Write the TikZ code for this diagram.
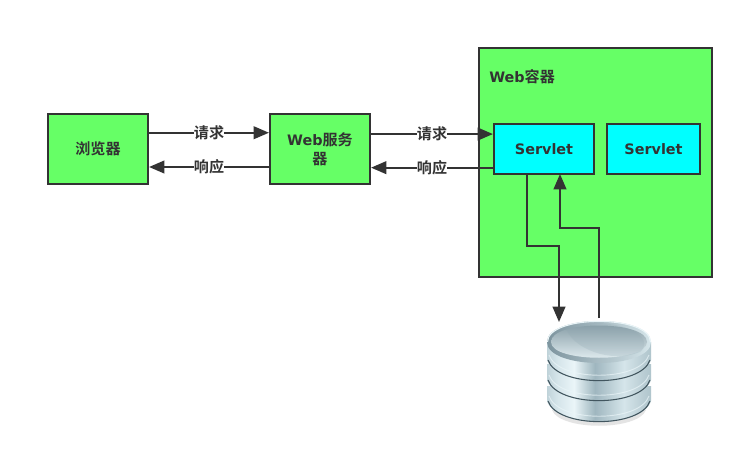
\documentclass[tikz,border=0pt]{standalone}
\usepackage{fontspec}
\setmainfont{DejaVu Sans}
\newfontfamily\cjkf{Noto Sans CJK SC}[BoldFont={* Bold}]
\usetikzlibrary{arrows.meta,positioning,calc}
\definecolor{ink}{HTML}{333333}
\definecolor{boxgreen}{HTML}{66FF66}
\definecolor{boxcyan}{HTML}{00FFFF}
\definecolor{dba}{HTML}{6F8791}
\definecolor{dbb}{HTML}{9FB6BF}
\definecolor{dbc}{HTML}{D5E5EA}
\definecolor{dbd}{HTML}{8DA5AF}
\definecolor{dbe}{HTML}{B7CBD2}
\definecolor{dbf}{HTML}{7D949E}
\definecolor{dbg}{HTML}{EAF5F8}
\definecolor{dbh}{HTML}{42565F}
\pgfdeclarehorizontalshading{discside}{100bp}{
 color(0bp)=(dba); color(8bp)=(dbf); color(17bp)=(dbb);
 color(30bp)=(dbc); color(38bp)=(dbg); color(48bp)=(dbb);
 color(62bp)=(dbc); color(72bp)=(dbe); color(90bp)=(dbd);
 color(93bp)=(dbg); color(97bp)=(dbf); color(100bp)=(dba)}
\tikzset{
 box/.style={draw=ink,line width=1.6pt,minimum width=#1,minimum height=52.5pt,inner sep=0pt,align=center},
 label text/.style={text=ink,font=\fontsize{10.8}{14}\selectfont\bfseries},
 cjk text/.style={text=ink,font=\cjkf\fontsize{11.3}{14}\selectfont\bfseries},
 conn/.style={draw=ink,line width=1.5pt,-{Triangle[length=11.5pt,width=9.5pt]}},
 edge label/.style={cjk text,fill=white,inner sep=0pt,pos=0.5}
}
\newcommand{\dbdisc}[2]{% top y, bottom y of side at rim
 \shade[shading=discside] (547,#1) -- (547,#2) .. controls (556,#2+28) and (642,#2+28) .. (651,#2) -- (651,#1) -- cycle;
 \draw[dbg,line width=0.7pt,opacity=.7] (549,#2-5) .. controls (558,#2+22) and (640,#2+22) .. (649,#2-5);
 \draw[dbh,line width=0.8pt] (548,#2) .. controls (557,#2+27.5) and (641,#2+27.5) .. (650,#2);
}
\begin{document}
\begin{tikzpicture}[x=0.75pt,y=-0.75pt]
\useasboundingbox[fill=white] (0,0) rectangle (744,460);
\node[box=75pt,fill=boxgreen,cjk text] (browser) at (98,149) {浏览器};
\node[box=75pt,fill=boxgreen,label text] (web) at (320,149) {Web{\cjkf\fontsize{11.3}{14}\selectfont 服务}\\[0.2pt]{\cjkf\fontsize{11.3}{14}\selectfont 器}};
\node[draw=ink,line width=1.6pt,fill=boxgreen,minimum width=174.75pt,minimum height=171.75pt,inner sep=0pt] (container) at (595.5,162.5) {};
\node[label text,anchor=west,inner sep=0pt] (ctitle) at (489,77) {Web{\cjkf\fontsize{11.3}{14}\selectfont 容器}};
\node[box=75pt,minimum height=37.5pt,fill=boxcyan,label text] (s1) at (544,149) {Servlet};
\node[box=70pt,minimum height=37.5pt,fill=boxcyan,label text] (s2) at (653.5,149) {Servlet};

\draw[conn] ([yshift=12.2pt]browser.east) -- node[edge label] (q1) {请求} ([yshift=12.2pt]web.west);
\draw[conn] ([yshift=-13.5pt]web.west) -- node[edge label] (r1) {响应} ([yshift=-13.5pt]browser.east);
\draw[conn] ([yshift=11.2pt]web.east) -- node[edge label] (q2) {请求} ([yshift=11.2pt]s1.west);
\draw[conn] ([yshift=-14pt]s1.west) -- node[edge label] (r2) {响应} ([yshift=-14pt]web.east);

% database
\coordinate (db) at (599,342);
\coordinate (dbin) at (559,322);
\coordinate (dbout) at (599,318);
\fill[black!30,opacity=.35] (552,410) .. controls (560,431) and (638,431) .. (646,410) -- cycle;
\dbdisc{386}{401}
\dbdisc{364}{380}
\dbdisc{342}{360}
% rim
\shade[left color=dbf,right color=dbc] (547,342)
  .. controls (547,314) and (651,314) .. (651,342)
  .. controls (651,370) and (547,370) .. (547,342) -- cycle;
\draw[dbg,line width=0.8pt] (547.5,342) .. controls (547.5,314.5) and (650.5,314.5) .. (650.5,342);
% face (the y axis is flipped, so the light colour is given as the bottom colour)
\shade[bottom color=dbg,top color=dbf]
  (551,342) .. controls (551,320) and (647,320) .. (647,342)
  .. controls (647,363) and (551,363) .. (551,342) -- cycle;
\fill[dbd,opacity=.22] (566,328) .. controls (572,348) and (610,364) .. (640,352)
  .. controls (652,342) and (640,326) .. (600,323) .. controls (585,323) and (575,325) .. (566,328) -- cycle;

\draw[conn] ([xshift=-12.5pt]s1.south) -- ++(0,70.5) -| (dbin);
\draw[conn] (dbout) |- (560,228) -- (560,174);
\end{tikzpicture}
\end{document}
